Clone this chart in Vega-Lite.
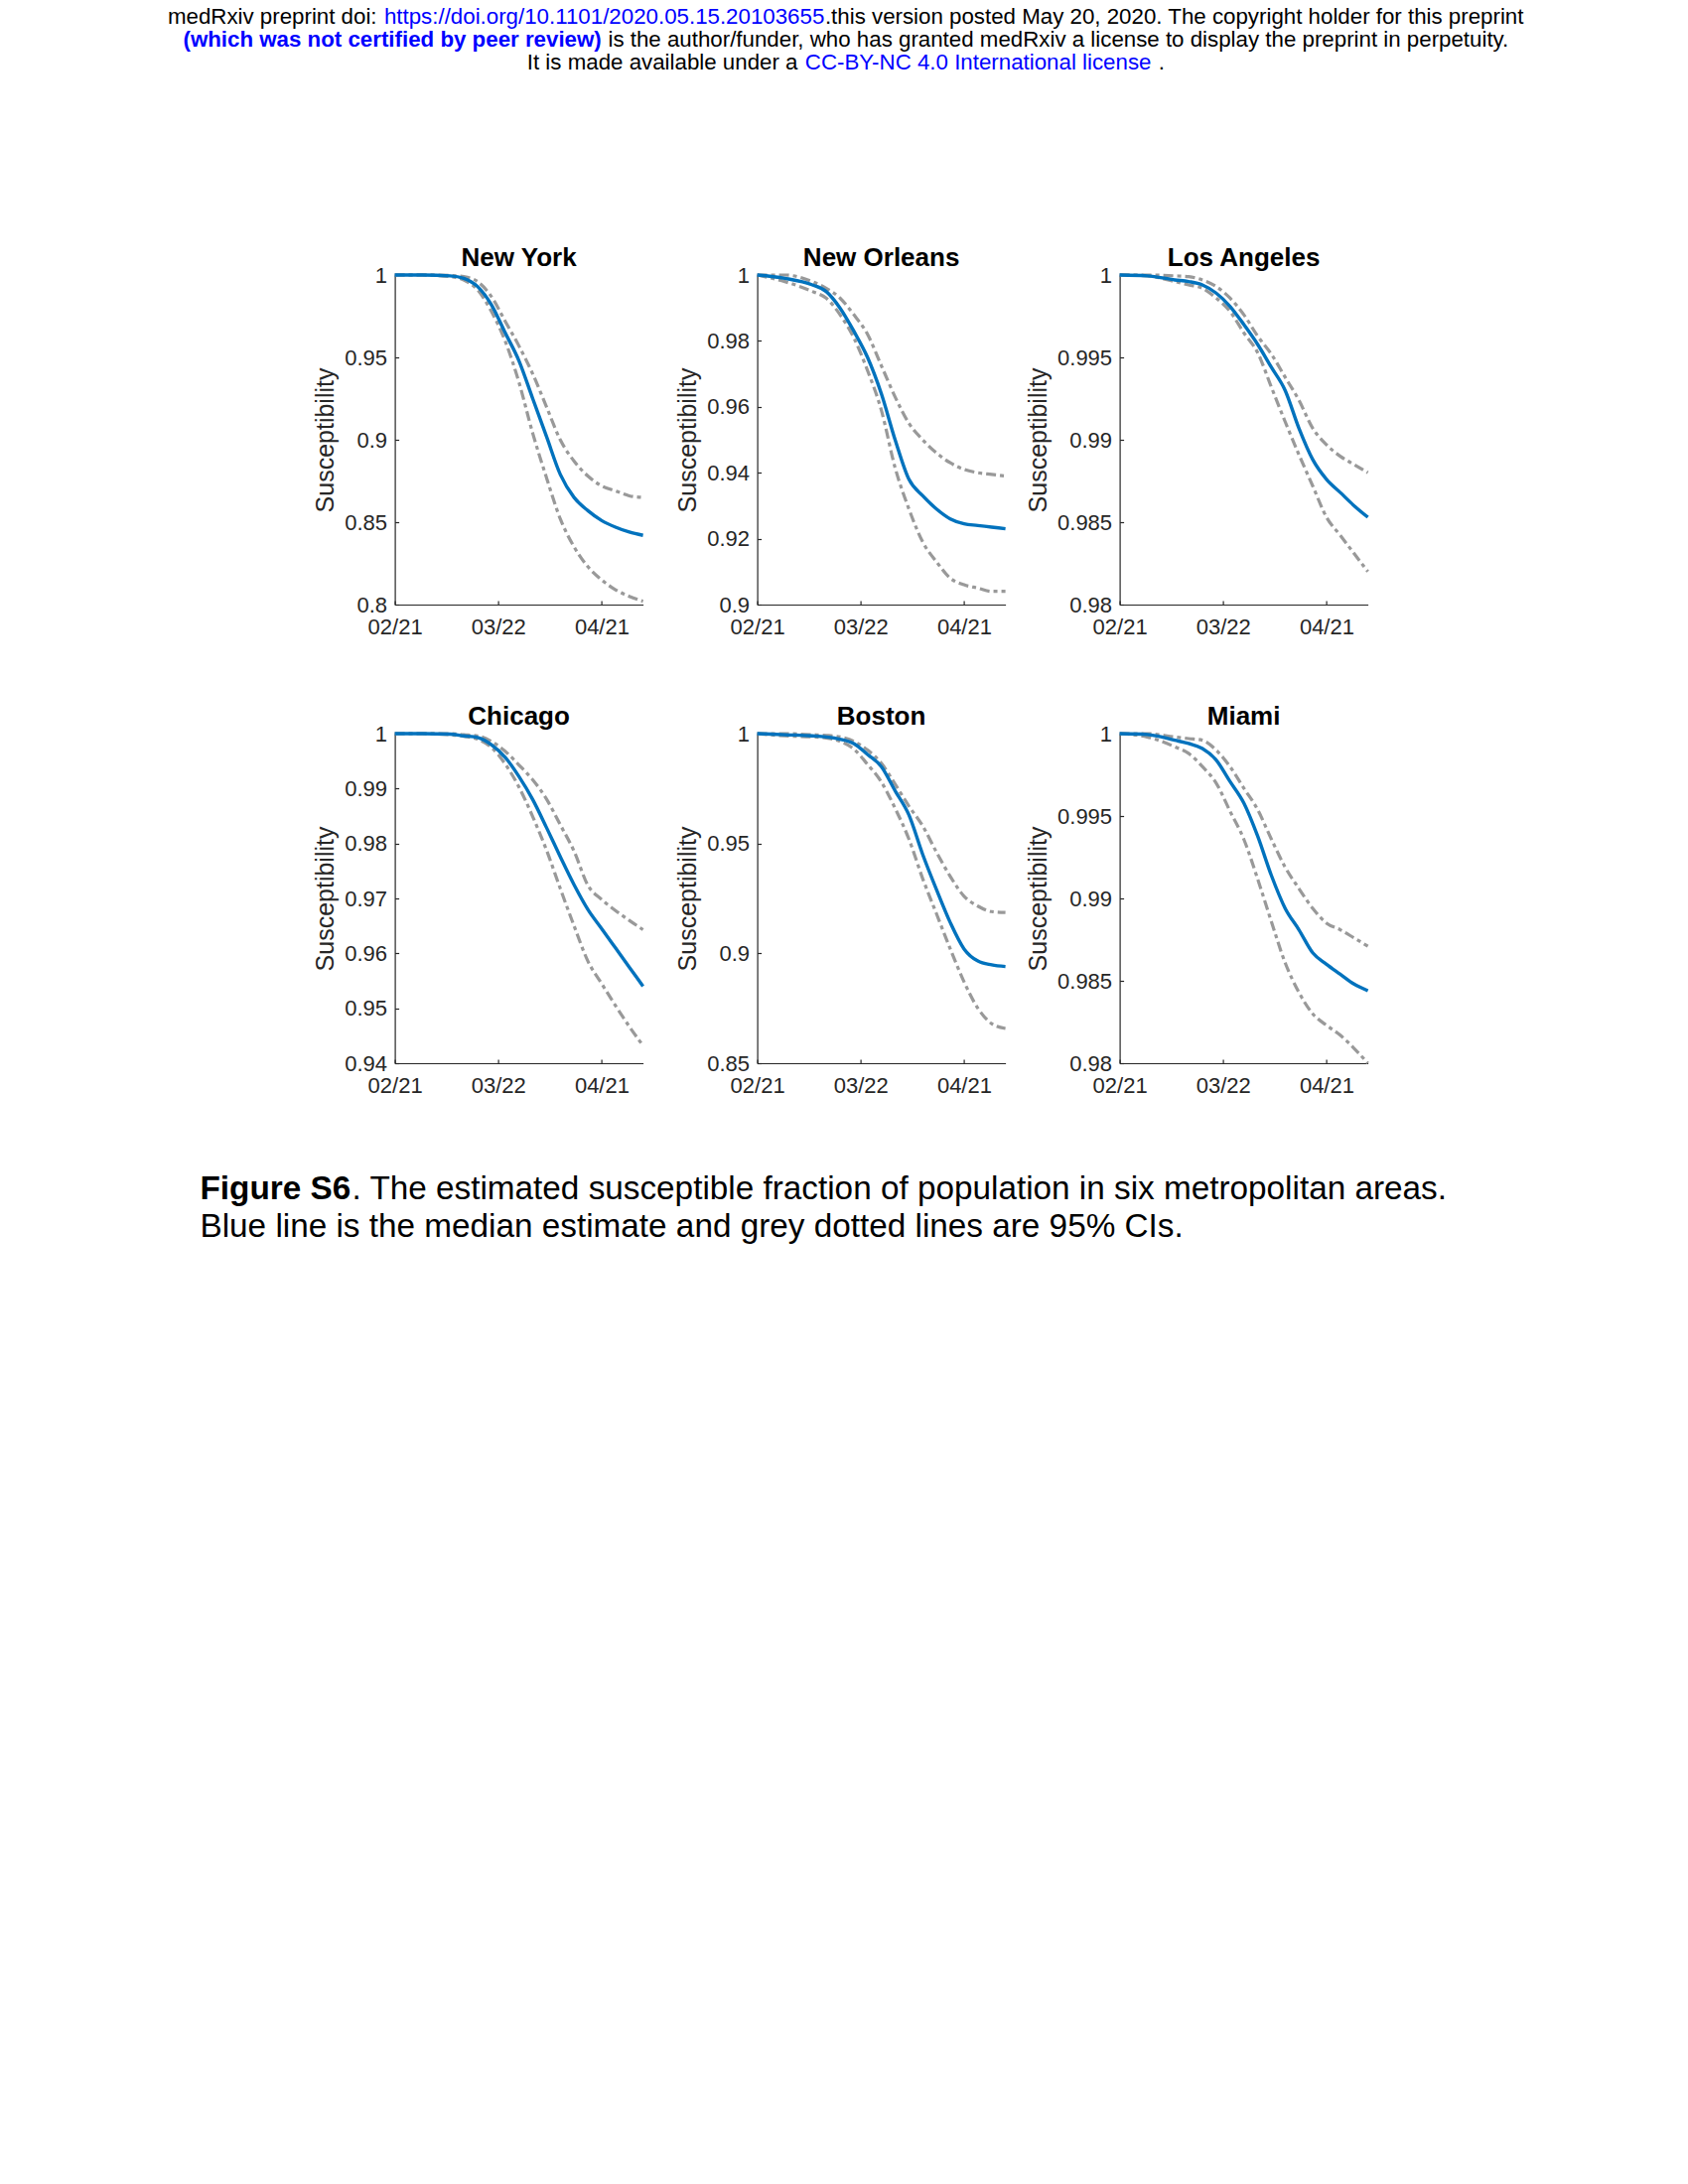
{
  "$schema": "https://vega.github.io/schema/vega-lite/v6.json",
  "background": "white",
  "padding": {"left": 168, "top": 5, "right": 10, "bottom": 10},
  "datasets": {
    "series": [
      {"c":"New York","d":"2020-02-21","m":1,"lo":1,"hi":1},
      {"c":"New York","d":"2020-02-29","m":1,"lo":1,"hi":1},
      {"c":"New York","d":"2020-03-08","m":0.9995,"lo":0.999,"hi":0.9997},
      {"c":"New York","d":"2020-03-12","m":0.998,"lo":0.997,"hi":0.999},
      {"c":"New York","d":"2020-03-16","m":0.993,"lo":0.991,"hi":0.996},
      {"c":"New York","d":"2020-03-20","m":0.982,"lo":0.978,"hi":0.987},
      {"c":"New York","d":"2020-03-24","m":0.965,"lo":0.960,"hi":0.972},
      {"c":"New York","d":"2020-03-28","m":0.948,"lo":0.935,"hi":0.957},
      {"c":"New York","d":"2020-04-01","m":0.925,"lo":0.904,"hi":0.940},
      {"c":"New York","d":"2020-04-05","m":0.902,"lo":0.877,"hi":0.920},
      {"c":"New York","d":"2020-04-09","m":0.879,"lo":0.852,"hi":0.900},
      {"c":"New York","d":"2020-04-13","m":0.865,"lo":0.835,"hi":0.887},
      {"c":"New York","d":"2020-04-17","m":0.857,"lo":0.823,"hi":0.878},
      {"c":"New York","d":"2020-04-21","m":0.851,"lo":0.815,"hi":0.872},
      {"c":"New York","d":"2020-04-25","m":0.847,"lo":0.809,"hi":0.869},
      {"c":"New York","d":"2020-04-29","m":0.844,"lo":0.805,"hi":0.866},
      {"c":"New York","d":"2020-05-03","m":0.842,"lo":0.802,"hi":0.865},
      {"c":"New Orleans","d":"2020-02-21","m":1,"lo":1,"hi":1},
      {"c":"New Orleans","d":"2020-02-29","m":0.999,"lo":0.998,"hi":1},
      {"c":"New Orleans","d":"2020-03-08","m":0.997,"lo":0.995,"hi":0.998},
      {"c":"New Orleans","d":"2020-03-12","m":0.995,"lo":0.993,"hi":0.996},
      {"c":"New Orleans","d":"2020-03-16","m":0.990,"lo":0.988,"hi":0.993},
      {"c":"New Orleans","d":"2020-03-20","m":0.983,"lo":0.981,"hi":0.988},
      {"c":"New Orleans","d":"2020-03-24","m":0.975,"lo":0.971,"hi":0.982},
      {"c":"New Orleans","d":"2020-03-28","m":0.964,"lo":0.959,"hi":0.9725},
      {"c":"New Orleans","d":"2020-04-01","m":0.950,"lo":0.9415,"hi":0.963},
      {"c":"New Orleans","d":"2020-04-05","m":0.938,"lo":0.929,"hi":0.955},
      {"c":"New Orleans","d":"2020-04-09","m":0.933,"lo":0.919,"hi":0.950},
      {"c":"New Orleans","d":"2020-04-13","m":0.929,"lo":0.913,"hi":0.946},
      {"c":"New Orleans","d":"2020-04-17","m":0.926,"lo":0.908,"hi":0.943},
      {"c":"New Orleans","d":"2020-04-21","m":0.9245,"lo":0.906,"hi":0.941},
      {"c":"New Orleans","d":"2020-04-25","m":0.924,"lo":0.905,"hi":0.940},
      {"c":"New Orleans","d":"2020-04-29","m":0.9235,"lo":0.904,"hi":0.9395},
      {"c":"New Orleans","d":"2020-05-03","m":0.923,"lo":0.904,"hi":0.939},
      {"c":"Los Angeles","d":"2020-02-21","m":1,"lo":1,"hi":1},
      {"c":"Los Angeles","d":"2020-02-29","m":0.99995,"lo":0.99995,"hi":1},
      {"c":"Los Angeles","d":"2020-03-08","m":0.9997,"lo":0.9996,"hi":0.99995},
      {"c":"Los Angeles","d":"2020-03-12","m":0.9996,"lo":0.9994,"hi":0.9999},
      {"c":"Los Angeles","d":"2020-03-16","m":0.9994,"lo":0.9992,"hi":0.9997},
      {"c":"Los Angeles","d":"2020-03-20","m":0.9989,"lo":0.9986,"hi":0.9993},
      {"c":"Los Angeles","d":"2020-03-24","m":0.9981,"lo":0.9978,"hi":0.9986},
      {"c":"Los Angeles","d":"2020-03-28","m":0.9970,"lo":0.9965,"hi":0.9976},
      {"c":"Los Angeles","d":"2020-04-01","m":0.9958,"lo":0.9953,"hi":0.9963},
      {"c":"Los Angeles","d":"2020-04-05","m":0.9944,"lo":0.9932,"hi":0.9952},
      {"c":"Los Angeles","d":"2020-04-09","m":0.9930,"lo":0.9911,"hi":0.9938},
      {"c":"Los Angeles","d":"2020-04-13","m":0.9907,"lo":0.9891,"hi":0.9924},
      {"c":"Los Angeles","d":"2020-04-17","m":0.9888,"lo":0.9872,"hi":0.9907},
      {"c":"Los Angeles","d":"2020-04-21","m":0.9876,"lo":0.9853,"hi":0.9897},
      {"c":"Los Angeles","d":"2020-04-25","m":0.9868,"lo":0.9842,"hi":0.9890},
      {"c":"Los Angeles","d":"2020-04-29","m":0.9860,"lo":0.9831,"hi":0.9885},
      {"c":"Los Angeles","d":"2020-05-03","m":0.9853,"lo":0.9820,"hi":0.9880},
      {"c":"Chicago","d":"2020-02-21","m":1,"lo":1,"hi":1},
      {"c":"Chicago","d":"2020-02-29","m":1,"lo":1,"hi":1},
      {"c":"Chicago","d":"2020-03-08","m":0.9999,"lo":0.9998,"hi":1},
      {"c":"Chicago","d":"2020-03-12","m":0.9996,"lo":0.9995,"hi":0.9998},
      {"c":"Chicago","d":"2020-03-16","m":0.9993,"lo":0.9990,"hi":0.9996},
      {"c":"Chicago","d":"2020-03-20","m":0.9980,"lo":0.9975,"hi":0.9986},
      {"c":"Chicago","d":"2020-03-24","m":0.9957,"lo":0.9945,"hi":0.9968},
      {"c":"Chicago","d":"2020-03-28","m":0.9922,"lo":0.9903,"hi":0.9943},
      {"c":"Chicago","d":"2020-04-01","m":0.9880,"lo":0.9849,"hi":0.9916},
      {"c":"Chicago","d":"2020-04-05","m":0.9829,"lo":0.9788,"hi":0.9881},
      {"c":"Chicago","d":"2020-04-09","m":0.9776,"lo":0.9718,"hi":0.9834},
      {"c":"Chicago","d":"2020-04-13","m":0.9725,"lo":0.9650,"hi":0.9786},
      {"c":"Chicago","d":"2020-04-17","m":0.9680,"lo":0.9586,"hi":0.9724},
      {"c":"Chicago","d":"2020-04-21","m":0.9645,"lo":0.9545,"hi":0.9698},
      {"c":"Chicago","d":"2020-04-25","m":0.9610,"lo":0.9505,"hi":0.9678},
      {"c":"Chicago","d":"2020-04-29","m":0.9575,"lo":0.9467,"hi":0.9660},
      {"c":"Chicago","d":"2020-05-03","m":0.9540,"lo":0.9432,"hi":0.9643},
      {"c":"Boston","d":"2020-02-21","m":1,"lo":1,"hi":1},
      {"c":"Boston","d":"2020-02-29","m":0.9995,"lo":0.999,"hi":1},
      {"c":"Boston","d":"2020-03-08","m":0.999,"lo":0.9985,"hi":0.9995},
      {"c":"Boston","d":"2020-03-12","m":0.9985,"lo":0.998,"hi":0.9992},
      {"c":"Boston","d":"2020-03-16","m":0.9975,"lo":0.9965,"hi":0.9985},
      {"c":"Boston","d":"2020-03-20","m":0.9955,"lo":0.993,"hi":0.9965},
      {"c":"Boston","d":"2020-03-24","m":0.9905,"lo":0.986,"hi":0.9925},
      {"c":"Boston","d":"2020-03-28","m":0.985,"lo":0.978,"hi":0.9865},
      {"c":"Boston","d":"2020-04-01","m":0.974,"lo":0.966,"hi":0.977},
      {"c":"Boston","d":"2020-04-05","m":0.963,"lo":0.952,"hi":0.967},
      {"c":"Boston","d":"2020-04-09","m":0.945,"lo":0.934,"hi":0.958},
      {"c":"Boston","d":"2020-04-13","m":0.929,"lo":0.918,"hi":0.946},
      {"c":"Boston","d":"2020-04-17","m":0.914,"lo":0.902,"hi":0.935},
      {"c":"Boston","d":"2020-04-21","m":0.902,"lo":0.887,"hi":0.926},
      {"c":"Boston","d":"2020-04-25","m":0.8965,"lo":0.875,"hi":0.9215},
      {"c":"Boston","d":"2020-04-29","m":0.8948,"lo":0.868,"hi":0.919},
      {"c":"Boston","d":"2020-05-03","m":0.894,"lo":0.8658,"hi":0.9186},
      {"c":"Miami","d":"2020-02-21","m":1,"lo":1,"hi":1},
      {"c":"Miami","d":"2020-02-29","m":0.99995,"lo":0.9998,"hi":1},
      {"c":"Miami","d":"2020-03-08","m":0.9996,"lo":0.9992,"hi":0.9998},
      {"c":"Miami","d":"2020-03-12","m":0.9994,"lo":0.9988,"hi":0.9997},
      {"c":"Miami","d":"2020-03-16","m":0.9991,"lo":0.9980,"hi":0.9996},
      {"c":"Miami","d":"2020-03-20","m":0.9984,"lo":0.9970,"hi":0.9990},
      {"c":"Miami","d":"2020-03-24","m":0.9971,"lo":0.9953,"hi":0.9980},
      {"c":"Miami","d":"2020-03-28","m":0.9958,"lo":0.9936,"hi":0.9967},
      {"c":"Miami","d":"2020-04-01","m":0.9938,"lo":0.9912,"hi":0.9954},
      {"c":"Miami","d":"2020-04-05","m":0.9914,"lo":0.9886,"hi":0.9936},
      {"c":"Miami","d":"2020-04-09","m":0.9894,"lo":0.9861,"hi":0.9919},
      {"c":"Miami","d":"2020-04-13","m":0.9881,"lo":0.9843,"hi":0.9906},
      {"c":"Miami","d":"2020-04-17","m":0.9867,"lo":0.9830,"hi":0.9894},
      {"c":"Miami","d":"2020-04-21","m":0.9860,"lo":0.9823,"hi":0.9885},
      {"c":"Miami","d":"2020-04-25","m":0.9854,"lo":0.9817,"hi":0.9881},
      {"c":"Miami","d":"2020-04-29","m":0.9848,"lo":0.9809,"hi":0.9876},
      {"c":"Miami","d":"2020-05-03","m":0.9844,"lo":0.9800,"hi":0.9871}
    ]
  },
  "vconcat": [
    {
      "vconcat": [
        {"hconcat": [
          {"data": {"values": [{"t": "medRxiv preprint doi:"}]}, "width": 1, "height": 1, "mark": {"type": "text", "align": "left", "baseline": "alphabetic", "fontSize": 22.3, "color": "#000000"}, "encoding": {"text": {"field": "t"}}},
          {"hconcat": [
            {"data": {"values": [{"t": "https://doi.org/10.1101/2020.05.15.20103655"}]}, "width": 1, "height": 1, "mark": {"type": "text", "align": "left", "baseline": "alphabetic", "fontSize": 22.3, "color": "#0000ff"}, "encoding": {"text": {"field": "t"}}},
            {"data": {"values": [{"t": ".this version posted May 20, 2020. The copyright holder for this preprint"}]}, "width": 1, "height": 1, "mark": {"type": "text", "align": "left", "baseline": "alphabetic", "fontSize": 22.3, "color": "#000000"}, "encoding": {"text": {"field": "t"}}}
          ], "spacing": 0}
        ], "spacing": 6},
        {"hconcat": [
          {"data": {"values": [{"t": "(which was not certified by peer review)"}]}, "width": 1, "height": 1, "mark": {"type": "text", "align": "left", "baseline": "alphabetic", "fontSize": 22.3, "fontWeight": "bold", "color": "#0000ff"}, "encoding": {"text": {"field": "t"}}},
          {"data": {"values": [{"t": "is the author/funder, who has granted medRxiv a license to display the preprint in perpetuity."}]}, "width": 1, "height": 1, "mark": {"type": "text", "align": "left", "baseline": "alphabetic", "fontSize": 22.3, "color": "#000000"}, "encoding": {"text": {"field": "t"}}}
        ], "spacing": 6},
        {"hconcat": [
          {"data": {"values": [{"t": "It is made available under a"}]}, "width": 1, "height": 1, "mark": {"type": "text", "align": "left", "baseline": "alphabetic", "fontSize": 22.3, "color": "#000000"}, "encoding": {"text": {"field": "t"}}},
          {"data": {"values": [{"t": "CC-BY-NC 4.0 International license"}]}, "width": 1, "height": 1, "mark": {"type": "text", "align": "left", "baseline": "alphabetic", "fontSize": 22.3, "color": "#0000ff"}, "encoding": {"text": {"field": "t"}}},
          {"data": {"values": [{"t": "."}]}, "width": 1, "height": 1, "mark": {"type": "text", "align": "left", "baseline": "alphabetic", "fontSize": 22.3, "color": "#000000"}, "encoding": {"text": {"field": "t"}}}
        ], "spacing": 6},
        {"data": {"values": []}, "width": 1, "height": 97, "mark": "point"}
      ],
      "spacing": 0,
      "center": true
    },
    {
      "hconcat": [
        {"data": {"values": []}, "width": 79, "height": 1, "mark": "point"},
        {
          "concat": [
            {
              "width": 250, "height": 332, "data": {"name": "series"}, "title": "New York",
              "transform": [{"filter": "datum.c === 'New York'"}, {"fold": ["lo", "hi", "m"], "as": ["s", "v"]}],
              "encoding": {
                "x": {"field": "d", "type": "temporal", "scale": {"type": "utc", "domain": [{"year": 2020, "month": 2, "date": 21, "utc": true}, {"year": 2020, "month": 5, "date": 3, "utc": true}]}, "axis": {"values": [{"year": 2020, "month": 2, "date": 21, "utc": true}, {"year": 2020, "month": 3, "date": 22, "utc": true}, {"year": 2020, "month": 4, "date": 21, "utc": true}], "format": "%m/%d", "title": null}},
                "y": {"field": "v", "type": "quantitative", "scale": {"domain": [0.8, 1]}, "axis": {"values": [0.8, 0.85, 0.9, 0.95, 1], "format": "~g", "title": "Susceptibility"}}
              },
              "layer": [
                {"transform": [{"filter": "datum.s !== 'm'"}], "mark": {"type": "line", "color": "#999999", "strokeWidth": 3.2, "strokeDash": [10, 4, 4, 4], "interpolate": "monotone"}, "encoding": {"detail": {"field": "s"}}},
                {"transform": [{"filter": "datum.s === 'm'"}], "mark": {"type": "line", "color": "#0072BD", "strokeWidth": 3.4, "interpolate": "monotone"}}
              ]
            },
            {
              "width": 250, "height": 332, "data": {"name": "series"}, "title": "New Orleans",
              "transform": [{"filter": "datum.c === 'New Orleans'"}, {"fold": ["lo", "hi", "m"], "as": ["s", "v"]}],
              "encoding": {
                "x": {"field": "d", "type": "temporal", "scale": {"type": "utc", "domain": [{"year": 2020, "month": 2, "date": 21, "utc": true}, {"year": 2020, "month": 5, "date": 3, "utc": true}]}, "axis": {"values": [{"year": 2020, "month": 2, "date": 21, "utc": true}, {"year": 2020, "month": 3, "date": 22, "utc": true}, {"year": 2020, "month": 4, "date": 21, "utc": true}], "format": "%m/%d", "title": null}},
                "y": {"field": "v", "type": "quantitative", "scale": {"domain": [0.9, 1]}, "axis": {"values": [0.9, 0.92, 0.94, 0.96, 0.98, 1], "format": "~g", "title": "Susceptibility"}}
              },
              "layer": [
                {"transform": [{"filter": "datum.s !== 'm'"}], "mark": {"type": "line", "color": "#999999", "strokeWidth": 3.2, "strokeDash": [10, 4, 4, 4], "interpolate": "monotone"}, "encoding": {"detail": {"field": "s"}}},
                {"transform": [{"filter": "datum.s === 'm'"}], "mark": {"type": "line", "color": "#0072BD", "strokeWidth": 3.4, "interpolate": "monotone"}}
              ]
            },
            {
              "width": 250, "height": 332, "data": {"name": "series"}, "title": "Los Angeles",
              "transform": [{"filter": "datum.c === 'Los Angeles'"}, {"fold": ["lo", "hi", "m"], "as": ["s", "v"]}],
              "encoding": {
                "x": {"field": "d", "type": "temporal", "scale": {"type": "utc", "domain": [{"year": 2020, "month": 2, "date": 21, "utc": true}, {"year": 2020, "month": 5, "date": 3, "utc": true}]}, "axis": {"values": [{"year": 2020, "month": 2, "date": 21, "utc": true}, {"year": 2020, "month": 3, "date": 22, "utc": true}, {"year": 2020, "month": 4, "date": 21, "utc": true}], "format": "%m/%d", "title": null}},
                "y": {"field": "v", "type": "quantitative", "scale": {"domain": [0.98, 1]}, "axis": {"values": [0.98, 0.985, 0.99, 0.995, 1], "format": "~g", "title": "Susceptibility"}}
              },
              "layer": [
                {"transform": [{"filter": "datum.s !== 'm'"}], "mark": {"type": "line", "color": "#999999", "strokeWidth": 3.2, "strokeDash": [10, 4, 4, 4], "interpolate": "monotone"}, "encoding": {"detail": {"field": "s"}}},
                {"transform": [{"filter": "datum.s === 'm'"}], "mark": {"type": "line", "color": "#0072BD", "strokeWidth": 3.4, "interpolate": "monotone"}}
              ]
            },
            {
              "width": 250, "height": 332, "data": {"name": "series"}, "title": "Chicago",
              "transform": [{"filter": "datum.c === 'Chicago'"}, {"fold": ["lo", "hi", "m"], "as": ["s", "v"]}],
              "encoding": {
                "x": {"field": "d", "type": "temporal", "scale": {"type": "utc", "domain": [{"year": 2020, "month": 2, "date": 21, "utc": true}, {"year": 2020, "month": 5, "date": 3, "utc": true}]}, "axis": {"values": [{"year": 2020, "month": 2, "date": 21, "utc": true}, {"year": 2020, "month": 3, "date": 22, "utc": true}, {"year": 2020, "month": 4, "date": 21, "utc": true}], "format": "%m/%d", "title": null}},
                "y": {"field": "v", "type": "quantitative", "scale": {"domain": [0.94, 1]}, "axis": {"values": [0.94, 0.95, 0.96, 0.97, 0.98, 0.99, 1], "format": "~g", "title": "Susceptibility"}}
              },
              "layer": [
                {"transform": [{"filter": "datum.s !== 'm'"}], "mark": {"type": "line", "color": "#999999", "strokeWidth": 3.2, "strokeDash": [10, 4, 4, 4], "interpolate": "monotone"}, "encoding": {"detail": {"field": "s"}}},
                {"transform": [{"filter": "datum.s === 'm'"}], "mark": {"type": "line", "color": "#0072BD", "strokeWidth": 3.4, "interpolate": "monotone"}}
              ]
            },
            {
              "width": 250, "height": 332, "data": {"name": "series"}, "title": "Boston",
              "transform": [{"filter": "datum.c === 'Boston'"}, {"fold": ["lo", "hi", "m"], "as": ["s", "v"]}],
              "encoding": {
                "x": {"field": "d", "type": "temporal", "scale": {"type": "utc", "domain": [{"year": 2020, "month": 2, "date": 21, "utc": true}, {"year": 2020, "month": 5, "date": 3, "utc": true}]}, "axis": {"values": [{"year": 2020, "month": 2, "date": 21, "utc": true}, {"year": 2020, "month": 3, "date": 22, "utc": true}, {"year": 2020, "month": 4, "date": 21, "utc": true}], "format": "%m/%d", "title": null}},
                "y": {"field": "v", "type": "quantitative", "scale": {"domain": [0.85, 1]}, "axis": {"values": [0.85, 0.9, 0.95, 1], "format": "~g", "title": "Susceptibility"}}
              },
              "layer": [
                {"transform": [{"filter": "datum.s !== 'm'"}], "mark": {"type": "line", "color": "#999999", "strokeWidth": 3.2, "strokeDash": [10, 4, 4, 4], "interpolate": "monotone"}, "encoding": {"detail": {"field": "s"}}},
                {"transform": [{"filter": "datum.s === 'm'"}], "mark": {"type": "line", "color": "#0072BD", "strokeWidth": 3.4, "interpolate": "monotone"}}
              ]
            },
            {
              "width": 250, "height": 332, "data": {"name": "series"}, "title": "Miami",
              "transform": [{"filter": "datum.c === 'Miami'"}, {"fold": ["lo", "hi", "m"], "as": ["s", "v"]}],
              "encoding": {
                "x": {"field": "d", "type": "temporal", "scale": {"type": "utc", "domain": [{"year": 2020, "month": 2, "date": 21, "utc": true}, {"year": 2020, "month": 5, "date": 3, "utc": true}]}, "axis": {"values": [{"year": 2020, "month": 2, "date": 21, "utc": true}, {"year": 2020, "month": 3, "date": 22, "utc": true}, {"year": 2020, "month": 4, "date": 21, "utc": true}], "format": "%m/%d", "title": null}},
                "y": {"field": "v", "type": "quantitative", "scale": {"domain": [0.98, 1]}, "axis": {"values": [0.98, 0.985, 0.99, 0.995, 1], "format": "~g", "title": "Susceptibility"}}
              },
              "layer": [
                {"transform": [{"filter": "datum.s !== 'm'"}], "mark": {"type": "line", "color": "#999999", "strokeWidth": 3.2, "strokeDash": [10, 4, 4, 4], "interpolate": "monotone"}, "encoding": {"detail": {"field": "s"}}},
                {"transform": [{"filter": "datum.s === 'm'"}], "mark": {"type": "line", "color": "#0072BD", "strokeWidth": 3.4, "interpolate": "monotone"}}
              ]
            }
          ],
          "columns": 3,
          "spacing": {"row": 130, "column": 115},
          "bounds": "flush"
        }
      ],
      "spacing": 0,
      "bounds": "flush"
    },
    {
      "hconcat": [
        {
          "vconcat": [
            {"hconcat": [
              {"data": {"values": [{"t": "Figure S6"}]}, "width": 1, "height": 1, "mark": {"type": "text", "align": "left", "baseline": "alphabetic", "fontSize": 33.3, "fontWeight": "bold", "color": "#000000"}, "encoding": {"text": {"field": "t"}}},
              {"data": {"values": [{"t": ". The estimated susceptible fraction of population in six metropolitan areas."}]}, "width": 1, "height": 1, "mark": {"type": "text", "align": "left", "baseline": "alphabetic", "fontSize": 33.3, "color": "#000000"}, "encoding": {"text": {"field": "t"}}}
            ], "spacing": 0},
            {"data": {"values": [{"t": "Blue line is the median estimate and grey dotted lines are 95% CIs."}]}, "width": 1, "height": 1, "mark": {"type": "text", "align": "left", "baseline": "alphabetic", "fontSize": 33.3, "color": "#000000"}, "encoding": {"text": {"field": "t"}}}
          ],
          "spacing": 4
        },
        {"data": {"values": []}, "width": 44, "height": 1, "mark": "point"}
      ],
      "spacing": 0
    }
  ],
  "spacing": 76,
  "center": true,
  "config": {
    "font": "Liberation Sans",
    "view": {"stroke": null},
    "text": {"font": "Liberation Sans"},
    "axis": {
      "grid": false,
      "domainColor": "#262626",
      "domainWidth": 1.2,
      "tickColor": "#262626",
      "tickWidth": 1.2,
      "tickSize": -4,
      "labelFont": "Liberation Sans",
      "labelFontSize": 22,
      "labelColor": "#262626",
      "labelOverlap": false,
      "titleFont": "Liberation Sans",
      "titleFontSize": 25,
      "titleFontWeight": "normal",
      "titleColor": "#262626"
    },
    "axisX": {"labelPadding": 16, "labelFlush": false},
    "axisY": {"labelPadding": 12, "titlePadding": 6},
    "title": {"font": "Liberation Sans", "fontSize": 26, "fontWeight": "bold", "color": "#000000", "frame": "group", "anchor": "middle", "offset": -7}
  }
}
